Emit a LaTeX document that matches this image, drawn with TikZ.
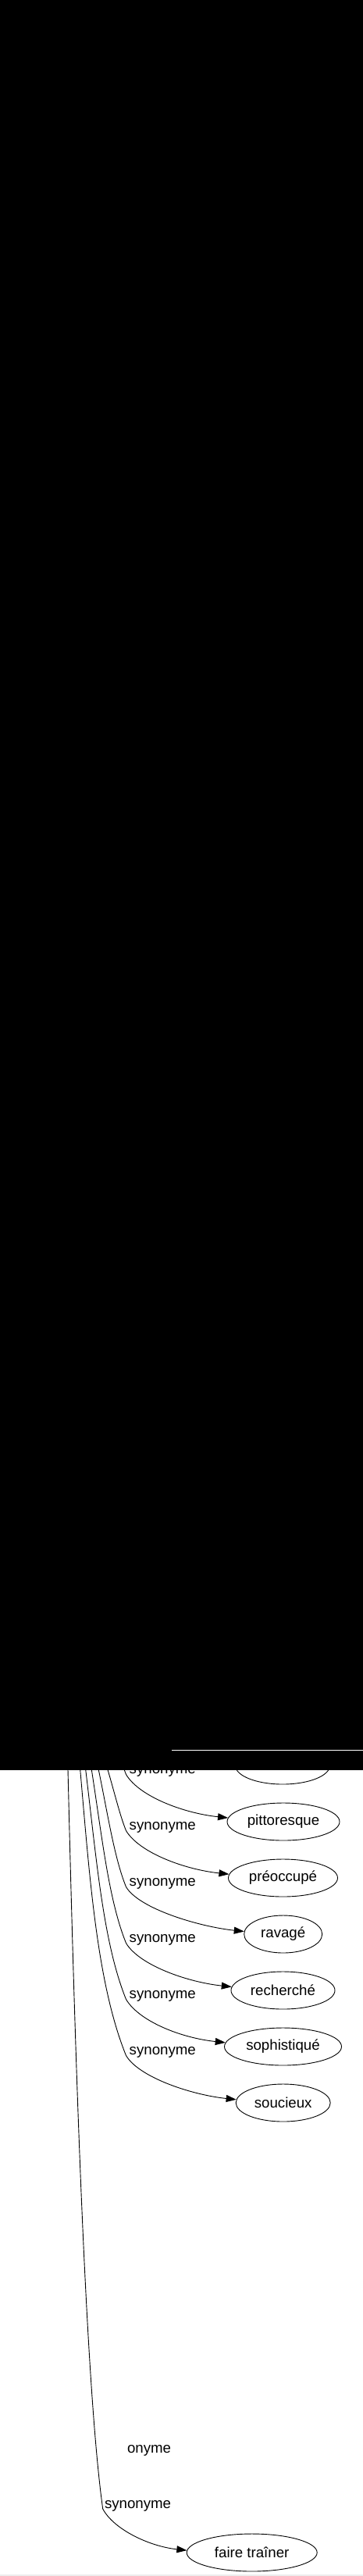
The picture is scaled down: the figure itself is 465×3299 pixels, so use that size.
\documentclass[tikz,border=0pt]{standalone}
\usepackage{fontspec}
\setmainfont{Liberation Sans}
\usetikzlibrary{shapes.geometric,arrows.meta}

\begin{document}
\begin{tikzpicture}[x=1pt, y=-1pt,
            syn/.style={ellipse, draw, line width=0.9pt, inner sep=0pt, minimum height=48pt, font=\fontsize{18.67}{22}\selectfont},
            lab/.style={inner sep=0pt, font=\fontsize{18.67}{22}\selectfont},
            rel/.style={line width=0.9pt, -{Triangle[length=13pt,width=9pt]}}]
            \useasboundingbox (0,0) rectangle (465,3299);

            \node [syn, minimum width=121pt] (partial) at (362,2261) {};
            \node [syn, minimum width=144pt] (pitt) at (363,2333) {pittoresque};
            \node [syn, minimum width=140pt] (preoc) at (362.5,2405) {préoccupé};
            \node [syn, minimum width=100pt] (ravage) at (362.7,2477) {ravagé};
            \node [syn, minimum width=133pt] (recherche) at (362.5,2549) {recherché};
            \node [syn, minimum width=150pt] (sophist) at (362.5,2621) {sophistiqué};
            \node [syn, minimum width=121pt] (soucieux) at (362.7,2693) {soucieux};
            \node [syn, minimum width=167pt] (trainer) at (322.7,3269) {faire traîner};

            \coordinate (t1) at (150,2235);   \coordinate (b1) at (161.5,2272.5);
            \coordinate (t2) at (135.5,2258); \coordinate (b2) at (161.5,2344.5);
            \coordinate (t3) at (124.5,2258); \coordinate (b3) at (161.5,2416.5);
            \coordinate (t4) at (116,2258);   \coordinate (b4) at (161.5,2488.5);
            \coordinate (t5) at (108.7,2258); \coordinate (b5) at (161.5,2560.5);
            \coordinate (t6) at (102,2258);   \coordinate (b6) at (161.5,2632.5);
            \coordinate (t7) at (86.8,2258);  \coordinate (b7) at (131.7,3213);

            \draw [rel] (t1) to[out=-70,in=112] (b1) to[out=-59,in=174,out distance=33pt,in distance=57pt] (pitt.176);
            \draw [rel] (t2) to[out=-73,in=112,out distance=35pt,in distance=23pt] (b2) to[out=-59,in=174,out distance=33pt,in distance=57pt] (preoc.176);
            \draw [rel] (t3) to[out=-78,in=112,out distance=64pt,in distance=42pt] (b3) to[out=-59,in=174,out distance=33pt,in distance=57pt] (ravage.176);
            \draw [rel] (t4) to[out=-81,in=112,out distance=92pt,in distance=61pt] (b4) to[out=-59,in=174,out distance=33pt,in distance=57pt] (recherche.176);
            \draw [rel] (t5) to[out=-83,in=112,out distance=120pt,in distance=80pt] (b5) to[out=-59,in=174,out distance=33pt,in distance=57pt] (sophist.176);
            \draw [rel] (t6) to[out=-85,in=112,out distance=148pt,in distance=100pt] (b6) to[out=-59,in=174,out distance=33pt,in distance=57pt] (soucieux.176);
            \draw [rel] (t7) to[out=-88.6,in=98,out distance=342pt,in distance=165pt] (b7) to[out=-62,in=174,out distance=30pt,in distance=48pt] (trainer.178);

            \node [lab, anchor=base west] (l1) at (165.5,2271.5) {synonyme};
            \node [lab, anchor=base west] (l2) at (165.5,2343.5) {synonyme};
            \node [lab, anchor=base west] (l3) at (165.5,2415.5) {synonyme};
            \node [lab, anchor=base west] (l4) at (165.5,2487.5) {synonyme};
            \node [lab, anchor=base west] (l5) at (165.5,2559.5) {synonyme};
            \node [lab, anchor=base west] (l6) at (165.5,2631.5) {synonyme};
            \node [lab, anchor=base east] (l7) at (219.3,3212) {synonyme};
            \node [lab, anchor=base east] (l8) at (219.3,3141) {onyme};

            \fill [black] (0,0) rectangle (465,2267);
            \draw [white, line width=0.8pt] (220,2241) -- (465,2241);
            \draw [black!7, line width=1.2pt] (0,3298) -- (465,3298);
        \end{tikzpicture}
\end{document}
